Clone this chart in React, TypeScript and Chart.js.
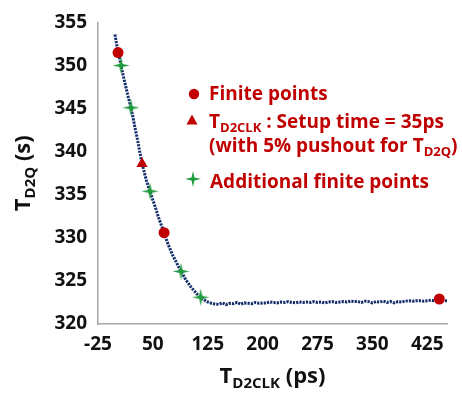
import React, { useEffect, useRef } from "react";
import { Chart, registerables } from "chart.js";
Chart.register(...registerables);

// ---- data ----
const curveX = [
  -1.8, 0, 2.4, 4.5, 6.5, 9, 12, 15, 18, 20.1, 23, 26, 29, 32, 35.2, 38, 41, 44, 46.1, 49,
  52, 55, 58, 61, 65.3, 68, 71, 74, 77, 80, 83, 86, 88.5, 92, 95, 98, 101, 104, 107, 110,
  113, 115.4, 118, 121, 124, 127, 130, 133, 136,
  140, 145, 150, 155, 160, 165, 170, 175, 180, 185, 190, 195, 200,
  205, 210, 215, 220, 225, 230, 235, 240, 245, 250, 255, 260, 265, 270, 275, 280, 285, 290, 295, 300,
  305, 310, 315, 320, 325, 330, 335, 340, 345, 350, 355, 360, 365, 370, 375, 380, 385, 390, 395, 400,
  405, 410, 415, 420, 425, 430, 435, 440, 445, 450, 452,
];
const curveY = [
  353.6, 352.7, 351.6, 350.8, 350.0, 349.0, 347.9, 346.8, 345.8, 345.1, 343.9, 342.6, 341.4, 340.0, 338.6, 337.7, 336.7, 335.9, 335.4, 334.6,
  333.9, 333.1, 332.3, 331.6, 330.6, 329.9, 329.2, 328.6, 328.0, 327.5, 327.0, 326.5, 326.1, 325.6, 325.1, 324.8, 324.4, 324.1, 323.8, 323.5,
  323.3, 323.1, 322.9, 322.75, 322.6, 322.5, 322.4, 322.35, 322.3,
  322.3, 322.45, 322.25, 322.4, 322.35, 322.5, 322.3, 322.45, 322.4, 322.35, 322.5, 322.4, 322.45,
  322.45, 322.55, 322.5, 322.45, 322.55, 322.5, 322.6, 322.5, 322.45, 322.55, 322.5, 322.55, 322.5, 322.6, 322.5, 322.55, 322.45, 322.55, 322.6, 322.5,
  322.55, 322.6, 322.55, 322.65, 322.6, 322.6, 322.5, 322.65, 322.6, 322.45, 322.6, 322.55, 322.65, 322.5, 322.6, 322.45, 322.6, 322.55, 322.65, 322.7,
  322.65, 322.7, 322.7, 322.65, 322.7, 322.75, 322.7, 322.7, 322.75, 322.7, 322.7,
];
const finiteX = [2.4, 65.3, 441.5];
const finiteY = [351.5, 330.6, 322.9];
const setupX = [35.2];
const setupY = [338.6];
const addX = [6.5, 20.1, 46.1, 88.5, 115.4];
const addY = [350.0, 345.1, 335.4, 326.1, 323.1];
const xTicks = [-25, 50, 125, 200, 275, 350, 425];
const yTicks = [320, 325, 330, 335, 340, 345, 350, 355];

const FONT = "'Open Sans', 'DejaVu Sans', sans-serif";
const RED = "#C00000";
const GREEN = "#1E9B3C";
const NAVY = "#132C6A";
const TXT = "#111111";

function makeStar(size: number, color: string) {
  const c = document.createElement("canvas");
  c.width = size;
  c.height = size;
  const ctx = c.getContext("2d")!;
  const r = size / 2;
  const ri = size * 0.13;
  ctx.beginPath();
  for (let i = 0; i < 8; i++) {
    const ang = (i * Math.PI) / 4 - Math.PI / 2;
    const rad = i % 2 === 0 ? r : ri;
    ctx.lineTo(r + Math.cos(ang) * rad, r + Math.sin(ang) * rad);
  }
  ctx.closePath();
  ctx.fillStyle = color;
  ctx.fill();
  return c;
}

type Part = { text: string; size: number; dy?: number };

function measureRich(ctx: CanvasRenderingContext2D, parts: Part[]) {
  let w = 0;
  for (const p of parts) {
    ctx.font = `bold ${p.size}px ${FONT}`;
    w += ctx.measureText(p.text).width;
  }
  return w;
}

function drawRich(ctx: CanvasRenderingContext2D, x: number, y: number, parts: Part[], color: string) {
  let cx = x;
  ctx.fillStyle = color;
  ctx.textBaseline = "alphabetic";
  ctx.textAlign = "left";
  for (const p of parts) {
    ctx.font = `bold ${p.size}px ${FONT}`;
    ctx.fillText(p.text, cx, y + (p.dy || 0));
    cx += ctx.measureText(p.text).width;
  }
  return cx;
}

export default function App() {
  const ref = useRef<HTMLCanvasElement>(null);
  useEffect(() => {
    if (!ref.current) return;
    const starBig = makeStar(17, GREEN);
    const starSmall = makeStar(16, GREEN);

    const textPlugin = {
      id: "richText",
      afterDraw(chart: any) {
        const ctx: CanvasRenderingContext2D = chart.ctx;
        ctx.save();
        // legend markers
        ctx.fillStyle = RED;
        ctx.beginPath();
        ctx.arc(194, 94, 5.2, 0, Math.PI * 2);
        ctx.fill();
        ctx.beginPath();
        ctx.moveTo(192, 114.5);
        ctx.lineTo(197.5, 124.5);
        ctx.lineTo(186.5, 124.5);
        ctx.closePath();
        ctx.fill();
        ctx.drawImage(starSmall, 193 - 8, 179 - 8);
        // legend text
        drawRich(ctx, 209, 100, [{ text: "Finite points", size: 19 }], RED);
        drawRich(ctx, 209, 128, [
          { text: "T", size: 19 },
          { text: "D2CLK", size: 13, dy: 4 },
          { text: " : Setup time = 35ps", size: 19 },
        ], RED);
        drawRich(ctx, 209, 152, [
          { text: "(with 5% pushout for T", size: 19 },
          { text: "D2Q", size: 13, dy: 4 },
          { text: ")", size: 19 },
        ], RED);
        drawRich(ctx, 210, 188, [{ text: "Additional finite points", size: 19 }], RED);

        // x title
        const xParts: Part[] = [
          { text: "T", size: 22 },
          { text: "D2CLK", size: 15, dy: 5 },
          { text: " (ps)", size: 22 },
        ];
        const xw = measureRich(ctx, xParts);
        const ca = chart.chartArea;
        drawRich(ctx, (ca.left + ca.right) / 2 - xw / 2, 383, xParts, TXT);

        // y title
        const yParts: Part[] = [
          { text: "T", size: 22 },
          { text: "D2Q", size: 15, dy: 5 },
          { text: " (s)", size: 22 },
        ];
        const yw = measureRich(ctx, yParts);
        ctx.translate(30, (ca.top + ca.bottom) / 2);
        ctx.rotate(-Math.PI / 2);
        drawRich(ctx, -yw / 2, 0, yParts, TXT);
        ctx.restore();
      },
    };

    const chart = new Chart(ref.current, {
      type: "scatter",
      data: {
        datasets: [
          {
            label: "Additional finite points",
            data: addX.map((x, i) => ({ x, y: addY[i] })),
            pointStyle: starBig as any,
            pointRadius: 8,
            backgroundColor: GREEN,
            borderColor: GREEN,
          },
          {
            label: "Setup time",
            data: setupX.map((x, i) => ({ x, y: setupY[i] })),
            pointStyle: "triangle",
            pointRadius: 6.5,
            backgroundColor: RED,
            borderColor: RED,
            borderWidth: 0,
          },
          {
            label: "Finite points",
            data: finiteX.map((x, i) => ({ x, y: finiteY[i] })),
            pointStyle: "circle",
            pointRadius: 5.5,
            backgroundColor: RED,
            borderColor: RED,
            borderWidth: 0,
          },
          {
            label: "curve",
            data: curveX.map((x, i) => ({ x, y: curveY[i] })),
            showLine: true,
            pointRadius: 0,
            borderColor: NAVY,
            borderWidth: 3,
            borderDash: [2.2, 1.1],
            tension: 0,
          },
        ],
      },
      options: {
        animation: false,
        responsive: true,
        maintainAspectRatio: false,
        layout: { padding: { top: 20, right: 15, left: 0, bottom: 0 } },
        plugins: { legend: { display: false }, tooltip: { enabled: false } },
        scales: {
          x: {
            type: "linear",
            min: -25,
            max: 452,
            grid: { display: false, drawTicks: false },
            border: { display: true, color: "#A6A6A6", width: 1.5 },
            afterBuildTicks: (s: any) => {
              s.ticks = xTicks.map((v) => ({ value: v }));
            },
            afterFit: (s: any) => {
              s.height = 69;
            },
            ticks: {
              padding: 9,
              color: TXT,
              font: { family: FONT, size: 19, weight: "bold" },
              maxRotation: 0,
              autoSkip: false,
            },
          },
          y: {
            type: "linear",
            min: 320,
            max: 355,
            grid: { display: false, drawTicks: false },
            border: { display: true, color: "#A6A6A6", width: 1.5 },
            afterBuildTicks: (s: any) => {
              s.ticks = yTicks.map((v) => ({ value: v }));
            },
            afterFit: (s: any) => {
              s.width = 98;
            },
            ticks: {
              padding: 11,
              color: TXT,
              font: { family: FONT, size: 19, weight: "bold" },
            },
          },
        },
      },
      plugins: [textPlugin],
    });
    return () => chart.destroy();
  }, []);

  return (
    <div style={{ position: "fixed", left: 0, top: 0, width: 462, height: 393, background: "#fff" }}>
      <canvas ref={ref} />
    </div>
  );
}
